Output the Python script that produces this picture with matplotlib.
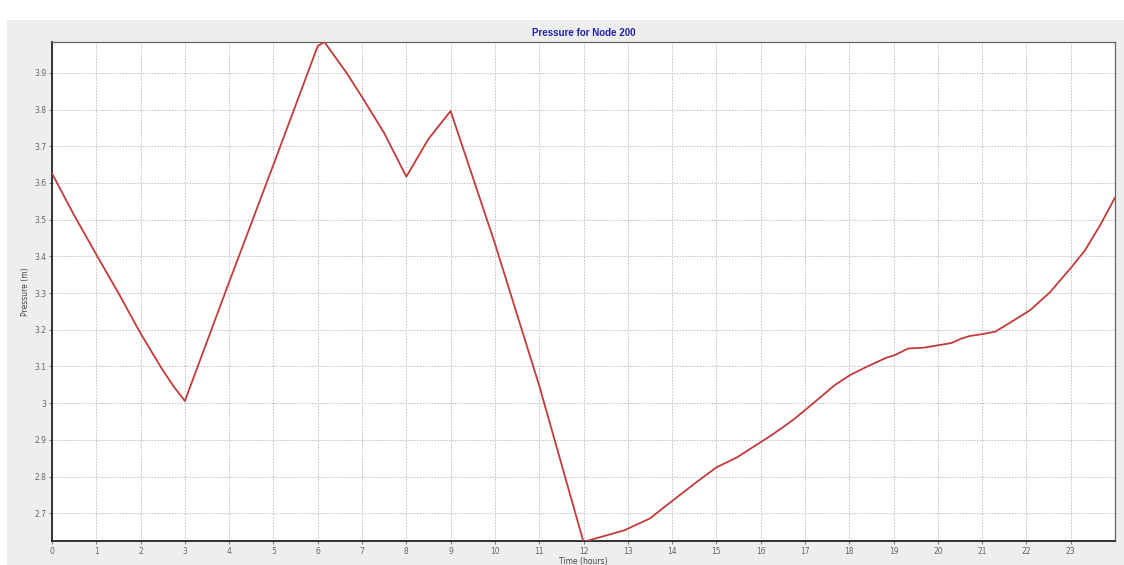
import matplotlib
matplotlib.use("Agg")
import matplotlib.pyplot as plt
from matplotlib.patches import Rectangle
from matplotlib.ticker import FuncFormatter

# Time (hours) and pressure (m)
time_h = [0.0, 0.5, 1.0, 1.5, 2.0, 2.5, 2.75, 3.0, 4.0, 5.0, 6.0, 6.15,
          6.65, 7.0, 7.5, 8.0, 8.5, 9.0, 10.0, 11.0, 12.0,
          12.93, 13.5, 13.91, 14.51, 15.0, 15.46, 15.9, 16.21, 16.51, 16.77,
          17.19, 17.67, 18.01, 18.39, 18.84, 19.03, 19.33, 19.67, 20.12, 20.31,
          20.53, 20.72, 21.0, 21.3, 21.6, 22.08, 22.53, 23.0, 23.32, 23.66, 24.0]
pressure_m = [3.626, 3.512, 3.405, 3.300, 3.190, 3.090, 3.045, 3.006, 3.330, 3.650, 3.973, 3.984,
              3.900, 3.834, 3.736, 3.617, 3.720, 3.796, 3.435, 3.048, 2.622,
              2.654, 2.686, 2.725, 2.781, 2.825, 2.852, 2.886, 2.910, 2.935, 2.958,
              3.000, 3.049, 3.076, 3.099, 3.124, 3.131, 3.149, 3.151, 3.160, 3.164,
              3.176, 3.183, 3.188, 3.195, 3.217, 3.253, 3.302, 3.368, 3.416, 3.484, 3.560]

x_ticks = list(range(0, 24))
y_ticks = [2.7, 2.8, 2.9, 3.0, 3.1, 3.2, 3.3, 3.4, 3.5, 3.6, 3.7, 3.8, 3.9]

W, H = 1124, 565
fig = plt.figure(figsize=(W / 100, H / 100), dpi=100, facecolor="white")
fig.patches.append(Rectangle((7 / W, 0), 1 - 7 / W, 1 - 20 / H, transform=fig.transFigure,
                             facecolor="#eeeeee", edgecolor="none", zorder=-10))

ax = fig.add_axes([52 / W, 1 - 541 / H, (1115 - 52) / W, (541 - 42) / H])
ax.set_zorder(1)
ax.set_facecolor("white")
ax.plot(time_h, pressure_m, color="#c43a3a", linewidth=1.3, zorder=3)

ax.set_xlim(0, 24)
ax.set_ylim(2.6245, 3.984)
ax.set_xticks(x_ticks)
ax.set_yticks(y_ticks)
ax.yaxis.set_major_formatter(FuncFormatter(lambda v, p: f"{v:g}"))
ax.grid(True, color="#bdbdbd", linestyle=(0, (1.5, 1.5)), linewidth=0.7)
ax.tick_params(axis="both", labelsize=5.5, colors="#666666", length=2, width=0.6, pad=2)

for side in ["top", "right"]:
    ax.spines[side].set_color("#666666")
    ax.spines[side].set_linewidth(0.9)
for side in ["left", "bottom"]:
    ax.spines[side].set_color("#222222")
    ax.spines[side].set_linewidth(1.3)

ax.set_title("Pressure for Node 200", fontsize=7, fontweight="bold", color="#2222aa",
             family="Liberation Sans", pad=4)
ax.set_xlabel("Time (hours)", fontsize=5.5, color="#444444", labelpad=1)
ax.set_ylabel("Pressure (m)", fontsize=5.5, color="#444444", labelpad=3)

fig.savefig("out.png", dpi=100, facecolor=fig.get_facecolor())
